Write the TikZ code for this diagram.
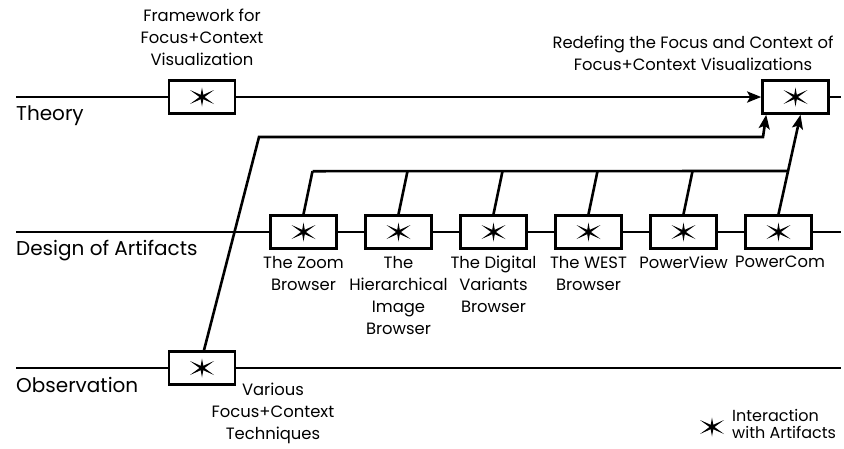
\documentclass[tikz,border=0pt]{standalone}
\usepackage{fontspec}
\setmainfont{Poppins}
\usetikzlibrary{arrows.meta,positioning}

\begin{document}
\begin{tikzpicture}[x=1pt, y=-1pt,
    track/.style={line width=2.8pt},
    artifact/.style={rectangle, draw, line width=2.6pt, minimum width=66pt, minimum height=33pt, inner sep=0pt},
    link/.style={line width=2.6pt},
    arrow/.style={link, -{Stealth[length=14pt, width=11pt, inset=3pt]}},
    caption/.style={font=\fontsize{16.4}{22}\selectfont, align=center, inner sep=0pt},
    tracklabel/.style={font=\fontsize{20}{22}\selectfont, anchor=base west, inner sep=0pt},
    asterisk/.pic={\fill (0,-9.5) -- (1.3,-2.2) -- (12,-7) -- (2.5,0) -- (12,7) -- (1.3,2.2) -- (0,9.5)
        -- (-1.3,2.2) -- (-12,7) -- (-2.5,0) -- (-12,-7) -- (-1.3,-2.2) -- cycle;},
]
    \useasboundingbox (0,0) rectangle (844,448);

    % Track ends
    \coordinate (theoryL) at (16,97);
    \coordinate (theoryR) at (841,97);
    \coordinate (designL) at (16,232);
    \coordinate (designR) at (841,232);
    \coordinate (obsL) at (16,368);
    \coordinate (obsR) at (841,368);

    % Track labels
    \node[tracklabel] (theorylbl) at (16,120) {Theory};
    \node[tracklabel] (designlbl) at (16,255) {Design of Artifacts};
    \node[tracklabel] (obslbl) at (16,392) {Observation};

    % Theory
    \node[artifact] (framework) at (202,97) {};
    \node[artifact] (redefine) at (795.5,97) {};
    \node[caption, anchor=north] (frameworktext) at (202,9) {Framework for\\Focus+Context\\Visualization};
    \node[caption, anchor=north] (redefinetext) at (693,36) {Redefing the Focus and Context of\\Focus+Context Visualizations};

    % Design of artifacts
    \node[artifact] (zoom) at (303.5,232) {};
    \node[artifact] (hierarchy) at (398.5,232) {};
    \node[artifact] (digital) at (493.5,232) {};
    \node[artifact] (west) at (588.5,232) {};
    \node[artifact] (powerview) at (683.5,232) {};
    \node[artifact] (powercom) at (778.5,232) {};
    \node[caption, anchor=north] (zoomtext) at (303.5,256) {The Zoom\\Browser};
    \node[caption, anchor=north] (hierarchytext) at (398.5,256) {The\\Hierarchical\\Image\\Browser};
    \node[caption, anchor=north] (digitaltext) at (493.5,256) {The Digital\\Variants\\Browser};
    \node[caption, anchor=north] (westtext) at (588.5,256) {The WEST\\Browser};
    \node[caption, anchor=north] (powerviewtext) at (683.5,256) {PowerView};
    \node[caption, anchor=north] (powercomtext) at (780,256) {PowerCom};

    % Observation
    \node[artifact] (techniques) at (202,368) {};
    \node[caption, anchor=north] (techniquestext) at (273,383) {Various\\Focus+Context\\Techniques};

    % Asterisks
    \foreach \b in {framework,redefine,zoom,hierarchy,digital,west,powerview,powercom,techniques}
        \pic at (\b) {asterisk};

    % Legend
    \pic at (712,427) {asterisk};
    \node[caption, align=left, anchor=north west, font=\fontsize{16}{17}\selectfont] (legendtext) at (732,409) {Interaction\\with Artifacts};

    % Tracks
    \draw[track] (theoryL) -- (framework.west);
    \draw[track, -{Stealth[length=14pt, width=11pt, inset=3pt]}] (framework.east) -- (redefine.west);
    \draw[track] (redefine.east) -- (theoryR);
    \draw[track] (designL) -- (zoom.west);
    \draw[track] (zoom.east) -- (hierarchy.west);
    \draw[track] (hierarchy.east) -- (digital.west);
    \draw[track] (digital.east) -- (west.west);
    \draw[track] (west.east) -- (powerview.west);
    \draw[track] (powerview.east) -- (powercom.west);
    \draw[track] (powercom.east) -- (designR);
    \draw[track] (obsL) -- (techniques.west);
    \draw[track] (techniques.east) -- (obsR);

    % Artifacts feeding the redefinition
    \draw[link] (zoom.north) -- ++(9,-43) coordinate (zoomtop);
    \draw[link] (hierarchy.north) -- ++(9,-43);
    \draw[link] (digital.north) -- ++(9,-43);
    \draw[link] (west.north) -- ++(9,-43);
    \draw[link] (powerview.north) -- ++(9,-43);
    \coordinate (powercomtop) at (787.7,171);
    \draw[link] (zoomtop) -- (powercomtop);
    \draw[arrow] (powercom.north) -- ([xshift=5pt]redefine.south);

    % Observation feeding the redefinition
    \coordinate (bendA) at (259,137);
    \coordinate (bendB) at (763,137);
    \draw[arrow] ([xshift=2pt]techniques.north) -- (bendA) -- (bendB) -- ([xshift=5pt]redefine.south west);
\end{tikzpicture}
\end{document}
